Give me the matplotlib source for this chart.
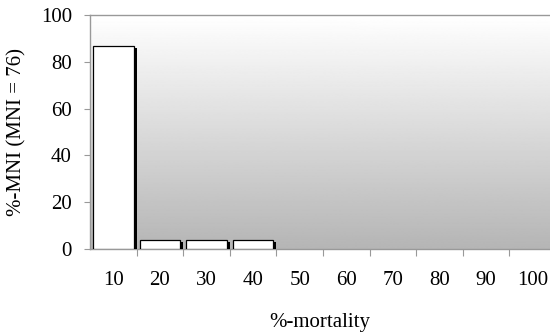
import numpy as np
import matplotlib.pyplot as plt
import matplotlib.patheffects as pe

# mortality classes and share of MNI per class
classes = ["10", "20", "30", "40", "50", "60", "70", "80", "90", "100"]
pct_mni = [86.8, 3.9, 3.9, 3.9, 0, 0, 0, 0, 0, 0]

plt.rcParams["font.family"] = ["Liberation Serif", "DejaVu Serif"]

fig = plt.figure(figsize=(5.5, 3.33), dpi=100)
ax = fig.add_axes([90 / 550, 1 - 249 / 333, 466 / 550, 234 / 333])

# white-to-grey background fill
grad = np.linspace(0.71, 1.0, 256).reshape(-1, 1)
ax.imshow(grad, cmap="gray", vmin=0, vmax=1, aspect="auto", origin="lower",
          extent=(0, 1, 0, 1), transform=ax.transAxes, zorder=0)

x = np.arange(len(classes))
shadow = [pe.SimplePatchShadow(offset=(2.2, -1.4), shadow_rgbFace="black", alpha=1.0),
          pe.Normal()]
for xi, v in zip(x, pct_mni):
    if v > 0:
        ax.bar(xi, v, width=0.87, color="white", edgecolor="black", linewidth=0.9,
               zorder=3, path_effects=shadow)

ax.set_xlim(-0.5, len(classes) - 0.5)
ax.set_ylim(0, 100)
ax.set_yticks(range(0, 101, 20))

ax.set_xticks(x[:-1] + 0.5)
ax.set_xticklabels([])
ax.set_xticks(x, minor=True)
ax.set_xticklabels(classes, minor=True)
ax.tick_params(axis="x", which="major", direction="out", length=5, color="#999999")
ax.tick_params(axis="x", which="minor", length=0, pad=16, labelsize=15)
ax.tick_params(axis="y", direction="out", length=4, color="#999999", pad=9, labelsize=15)

for s in ["left", "bottom", "top"]:
    ax.spines[s].set_color("#999999")
    ax.spines[s].set_linewidth(1.0)
ax.spines["right"].set_visible(False)

ax.set_ylabel("%-MNI (MNI = 76)", fontsize=15)
ax.yaxis.set_label_coords(-64 / 466, 0.5)
ax.set_xlabel("%-mortality", fontsize=15)
ax.xaxis.set_label_coords(230 / 466, -64 / 234)

fig.savefig("out.png", dpi=100)
